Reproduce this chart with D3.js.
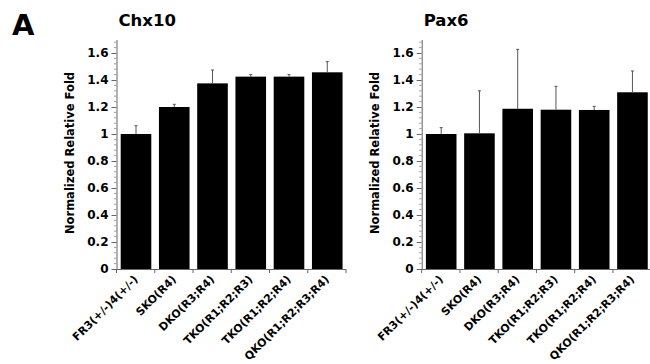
<!DOCTYPE html>
<html>
<head>
<meta charset="utf-8">
<script src="https://cdn.jsdelivr.net/npm/d3@7"></script>
<style>
  body { margin: 0; background: #fff; }
  text { font-family: "DejaVu Sans", sans-serif; font-weight: bold; fill: #000; }
</style>
</head>
<body>
<svg id="chart" width="650" height="364"></svg>
<script>
// categories (same for both panels)
const categories = ["FR3(+/-)4(+/-)", "SKO(R4)", "DKO(R3;R4)", "TKO(R1;R2;R3)", "TKO(R1;R2;R4)", "QKO(R1;R2;R3;R4)"];

// Chx10 : mean and top of error bar
const chx10Values = [1.0, 1.2, 1.375, 1.425, 1.425, 1.457];
const chx10ErrTop = [1.061, 1.22, 1.474, 1.44, 1.44, 1.536];

// Pax6
const pax6Values = [1.0, 1.005, 1.187, 1.18, 1.178, 1.309];
const pax6ErrTop = [1.047, 1.32, 1.627, 1.353, 1.205, 1.467];

const yTicks = [0, 0.2, 0.4, 0.6, 0.8, 1, 1.2, 1.4, 1.6];
const yTickLabels = ["0", "0.2", "0.4", "0.6", "0.8", "1", "1.2", "1.4", "1.6"];

const svg = d3.select("#chart");

// lettre du panneau
svg.append("text")
    .attr("x", 12)
    .attr("y", 35)
    .style("font-size", "29px")
    .text("A");

// echelle y commune
const y = d3.scaleLinear().domain([0, 1.7]).range([269, 269 - 1.7 * 135]);

function panel(x0, title, values, errTop) {
    const g = svg.append("g");

    // bandes : graduations aux limites
    const x = d3.scaleBand()
        .domain(categories)
        .range([x0, x0 + 229.5])
        .padding(0);
    const bw = x.bandwidth();
    const bx = d => x(d) + 4.2;
    const cx = d => x(d) + 4.2 + bw * 0.4;

    // titre
    g.append("text")
        .attr("x", x0 + 2)
        .attr("y", 26)
        .style("font-size", "16.5px")
        .text(title);

    // barres
    g.selectAll("rect.bar")
        .data(values)
        .enter()
        .append("rect")
        .attr("class", "bar")
        .attr("x", (d, i) => bx(categories[i]))
        .attr("width", bw * 0.8)
        .attr("y", d => y(d))
        .attr("height", d => y(0) - y(d))
        .attr("fill", "#000");

    // barres d'erreur (partie haute seulement)
    const err = g.selectAll("g.err")
        .data(errTop)
        .enter()
        .append("g")
        .attr("class", "err");
    err.append("line")
        .attr("x1", (d, i) => cx(categories[i]))
        .attr("x2", (d, i) => cx(categories[i]))
        .attr("y1", (d, i) => y(values[i]))
        .attr("y2", d => y(d))
        .attr("stroke", "#555")
        .attr("stroke-width", 1);
    err.append("line")
        .attr("x1", (d, i) => cx(categories[i]) - 1.5)
        .attr("x2", (d, i) => cx(categories[i]) + 1.5)
        .attr("y1", d => y(d))
        .attr("y2", d => y(d))
        .attr("stroke", "#555")
        .attr("stroke-width", 1);

    // axe y
    const yAxis = g.append("g")
        .attr("transform", `translate(${x0},0)`)
        .call(d3.axisLeft(y).tickValues(yTicks).tickSize(5).tickSizeOuter(0)
            .tickFormat((d, i) => yTickLabels[i]));
    yAxis.select(".domain").attr("stroke", "#666");
    yAxis.selectAll(".tick line").attr("stroke", "#666");
    yAxis.selectAll(".tick text")
        .attr("x", -8)
        .style("font-size", "12px")
        .style("font-family", "DejaVu Sans")
        .style("font-weight", "bold");

    // petites graduations
    const minor = d3.range(0, 1.7, 0.04).filter(v => !yTicks.some(t => Math.abs(t - v) < 1e-6));
    g.selectAll("line.minor")
        .data(minor)
        .enter()
        .append("line")
        .attr("class", "minor")
        .attr("x1", x0 - 2.5)
        .attr("x2", x0)
        .attr("y1", d => y(d))
        .attr("y2", d => y(d))
        .attr("stroke", "#888")
        .attr("stroke-width", 0.8);

    // axe x et graduations aux limites
    g.append("line")
        .attr("x1", x0)
        .attr("x2", x0 + 229.5)
        .attr("y1", y(0) + 0.5)
        .attr("y2", y(0) + 0.5)
        .attr("stroke", "#666");
    const bounds = categories.map(c => x(c)).concat([x0 + 229.5]);
    g.selectAll("line.xt")
        .data(bounds)
        .enter()
        .append("line")
        .attr("class", "xt")
        .attr("x1", d => d)
        .attr("x2", d => d)
        .attr("y1", y(0))
        .attr("y2", y(0) + 4)
        .attr("stroke", "#666");

    // etiquettes x
    g.selectAll("text.xl")
        .data(categories)
        .enter()
        .append("text")
        .attr("class", "xl")
        .attr("text-anchor", "end")
        .attr("transform", d => `translate(${x(d) + bw / 2 + 3},${y(0) + 11}) rotate(-45)`)
        .style("font-size", "11px")
        .text(d => d);

    // titre y
    g.append("text")
        .attr("text-anchor", "middle")
        .attr("transform", `translate(${x0 - 43},${153}) rotate(-90)`)
        .style("font-size", "11.5px")
        .text("Normalized Relative Fold");
}

panel(116.5, "Chx10", chx10Values, chx10ErrTop);
panel(421.7, "Pax6", pax6Values, pax6ErrTop);
</script>
</body>
</html>
